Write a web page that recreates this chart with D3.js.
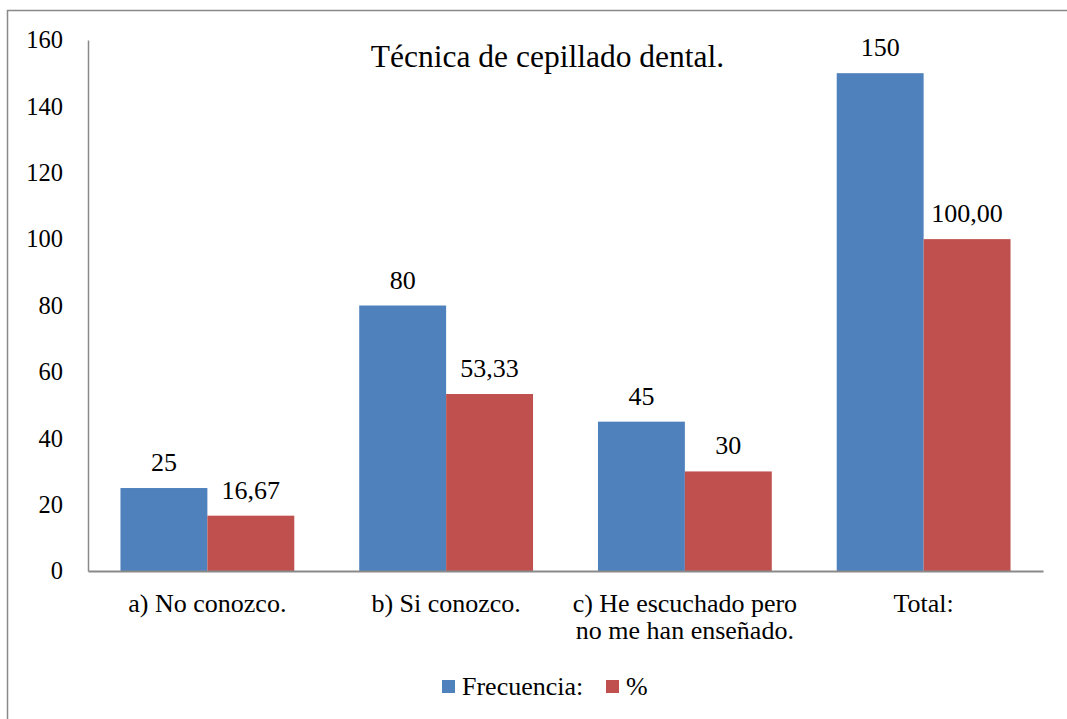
<!DOCTYPE html>
<html><head><meta charset="utf-8">
<script src="https://cdn.jsdelivr.net/npm/d3@7"></script>
<style>body{margin:0;background:#fff}svg{display:block}</style>
</head><body>
<script>
const categories = ["a) No conozco.", "b) Si conozco.", "c) He escuchado pero\nno me han enseñado.", "Total:"];
const seriesNames = ["Frecuencia:", "%"];
const frecuencia = [25, 80, 45, 150];
const porcentaje = [16.67, 53.33, 30, 100];
const valueLabels = [["25","80","45","150"],["16,67","53,33","30","100,00"]];
const yTicks = [0,20,40,60,80,100,120,140,160];
const colors = ["#4F81BD", "#C0504D"];
const title = "Técnica de cepillado dental.";

(function(){
const FONT = "Liberation Serif";
const W = 1067, H = 719;
const svg = d3.select("body").append("svg").attr("width", W).attr("height", H)
  .attr("font-family", FONT);
// outer border
svg.append("rect").attr("x", 7.5).attr("y", 10.5).attr("width", W + 20).attr("height", H + 20)
  .attr("fill", "none").attr("stroke", "#898989").attr("stroke-width", 1.5);

const pl = 88, pr = 1043, pt = 40, pb = 571;
const x = d3.scaleBand().domain(categories).range([pl, pr]).paddingInner(0.272).paddingOuter(0.136);
const xs = d3.scaleBand().domain([0,1]).range([0, x.bandwidth()]);
const y = d3.scaleLinear().domain([0,160]).range([pb, pt]);

const series = [frecuencia, porcentaje];
series.forEach((vals, si) => {
  svg.append("g").selectAll("rect").data(vals).join("rect")
    .attr("x", (d,i) => x(categories[i]) + xs(si))
    .attr("y", d => y(d))
    .attr("width", xs.bandwidth())
    .attr("height", d => y(0) - y(d))
    .attr("fill", colors[si]);
  svg.append("g").selectAll("text").data(vals).join("text")
    .attr("x", (d,i) => x(categories[i]) + xs(si) + xs.bandwidth()/2)
    .attr("y", d => y(d) - 17)
    .attr("text-anchor", "middle")
    .attr("font-family", FONT)
    .attr("font-size", 26)
    .text((d,i) => valueLabels[si][i]);
});

// y axis
const yAxis = svg.append("g").attr("transform", `translate(${pl},0)`)
  .call(d3.axisLeft(y).tickValues(yTicks).tickSize(0).tickPadding(25));
yAxis.attr("font-family", FONT).attr("font-size", 24.5);
yAxis.select(".domain").attr("stroke", "#898989").attr("stroke-width", 1.5);
yAxis.selectAll("text").attr("fill", "#000");

// x axis
const xAxis = svg.append("g").attr("transform", `translate(0,${pb})`)
  .call(d3.axisBottom(x).tickSize(0).tickFormat(""));
xAxis.select(".domain").attr("stroke", "#898989").attr("stroke-width", 2);

categories.forEach(c => {
  const lines = c.split("\n");
  const t = svg.append("text").attr("x", x(c) + x.bandwidth()/2).attr("y", 612)
    .attr("text-anchor", "middle").attr("font-size", 26).attr("font-family", FONT);
  lines.forEach((l, i) => t.append("tspan").attr("x", x(c) + x.bandwidth()/2).attr("dy", i ? 27 : 0).text(l));
});

svg.append("text").attr("x", 547.5).attr("y", 67).attr("text-anchor", "middle")
  .attr("font-family", FONT).attr("font-size", 31.5).text(title);

// legend
const legend = [{x: 442}, {x: 606}];
seriesNames.forEach((n, i) => {
  svg.append("rect").attr("x", legend[i].x).attr("y", 680).attr("width", 13).attr("height", 13).attr("fill", colors[i]);
  svg.append("text").attr("x", legend[i].x + 20).attr("y", 695).attr("font-family", FONT).attr("font-size", 26).text(n);
});
})();
</script>
</body></html>
